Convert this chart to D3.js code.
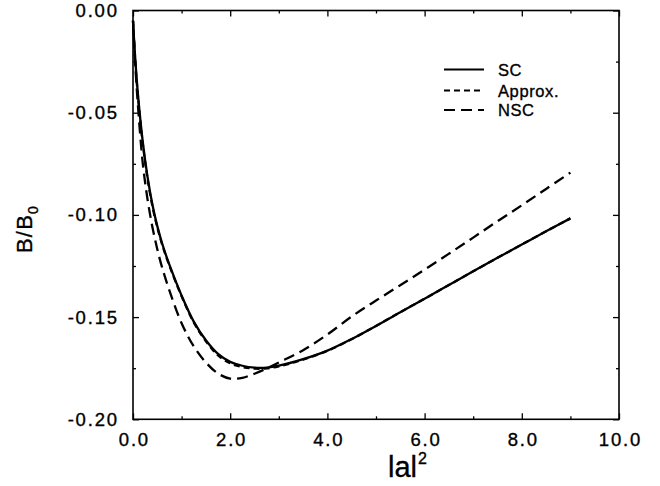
<!DOCTYPE html>
<html><head><meta charset="utf-8">
<script src="https://cdn.jsdelivr.net/npm/d3@7"></script>
<style>
html,body{margin:0;padding:0;background:#fff;}
svg text{font-family:"Liberation Sans",Arial,Helvetica,sans-serif;fill:#000;stroke:#000;stroke-width:0.35px;}
</style></head>
<body><svg id="chart" width="660" height="486"></svg>
<script>
// ---- data ----
const xs      = [0.0, 0.02, 0.05, 0.1, 0.2, 0.3, 0.4, 0.5, 0.6, 0.75, 1.0, 1.25, 1.5, 1.75, 2.0, 2.25, 2.5, 2.75, 3.0, 3.5, 4.0, 4.5, 5.0, 5.5, 6.0, 6.5, 7.0, 7.5, 8.0, 8.5, 9.0];
const scVals  = [-0.005, -0.0135, -0.025, -0.0405, -0.0640, -0.0815, -0.0950, -0.1055, -0.1140, -0.1245, -0.1395, -0.1522, -0.1613, -0.1680, -0.1719, -0.1738, -0.1747, -0.1747, -0.1738, -0.1706, -0.1664, -0.1607, -0.1543, -0.1476, -0.1410, -0.1343, -0.1276, -0.1210, -0.1145, -0.1080, -0.1017];
const apVals  = [-0.005, -0.0140, -0.026, -0.0415, -0.0650, -0.0824, -0.0958, -0.1061, -0.1145, -0.1249, -0.1398, -0.1526, -0.1618, -0.1687, -0.1726, -0.1744, -0.1752, -0.1751, -0.1741, -0.1708, -0.1665, -0.1608, -0.1543, -0.1476, -0.1410, -0.1343, -0.1276, -0.1210, -0.1145, -0.1080, -0.1017];
const nscVals = [-0.005, -0.0150, -0.028, -0.0460, -0.0745, -0.0925, -0.1060, -0.1168, -0.1258, -0.1370, -0.1530, -0.1643, -0.1722, -0.1776, -0.1801, -0.1797, -0.1777, -0.1751, -0.1722, -0.1662, -0.1585, -0.1497, -0.1419, -0.1344, -0.1268, -0.1190, -0.1111, -0.1031, -0.0953, -0.0873, -0.0793];
const seriesNames = ["SC", "Approx.", "NSC"];
const xMajor = [0, 2, 4, 6, 8, 10];
const xMinor = [1, 3, 5, 7, 9];
const yMajor = [0, -0.05, -0.10, -0.15, -0.20];
const yMinor = [-0.025, -0.075, -0.125, -0.175];
const xTickLabels = ["0.0", "2.0", "4.0", "6.0", "8.0", "10.0"];
const yTickLabels = ["0.00", "-0.05", "-0.10", "-0.15", "-0.20"];

// ---- layout ----
const svg = d3.select("#chart");
const L = 133, R = 619, T = 10.5, B = 419.3;
const x = d3.scaleLinear().domain([0, 10]).range([L, R]);
const y = d3.scaleLinear().domain([-0.2, 0]).range([B, T]);

const tickFont = 18.5, ls = 1.8;

// frame
svg.append("rect").attr("x", L).attr("y", T).attr("width", R - L).attr("height", B - T)
  .attr("fill", "none").attr("stroke", "#000").attr("stroke-width", 1.6);

function styleAxis(g) {
  g.select(".domain").remove();
  g.selectAll(".tick line").attr("stroke", "#000").attr("stroke-width", 1.3);
}

// bottom
const gB = svg.append("g").attr("transform", `translate(0,${B})`)
  .call(d3.axisBottom(x).tickValues(xMajor).tickSizeInner(-6).tickSizeOuter(0).tickPadding(14)
    .tickFormat((d, i) => xTickLabels[i]));
styleAxis(gB);
gB.selectAll("text").attr("font-size", tickFont).attr("letter-spacing", ls).attr("dx", ls / 2)
  .attr("font-family", "Liberation Sans, Arial, sans-serif").attr("fill", "#000");
svg.append("g").attr("transform", `translate(0,${B})`)
  .call(d3.axisBottom(x).tickValues(xMinor).tickSizeInner(-3).tickSizeOuter(0).tickFormat(""))
  .call(styleAxis);

// top
svg.append("g").attr("transform", `translate(0,${T})`)
  .call(d3.axisTop(x).tickValues(xMajor).tickSizeInner(-6).tickSizeOuter(0).tickFormat(""))
  .call(styleAxis);
svg.append("g").attr("transform", `translate(0,${T})`)
  .call(d3.axisTop(x).tickValues(xMinor).tickSizeInner(-3).tickSizeOuter(0).tickFormat(""))
  .call(styleAxis);

// left
const gL = svg.append("g").attr("transform", `translate(${L},0)`)
  .call(d3.axisLeft(y).tickValues(yMajor).tickSizeInner(-6).tickSizeOuter(0).tickPadding(16)
    .tickFormat((d, i) => yTickLabels[i]));
styleAxis(gL);
gL.selectAll("text").attr("font-size", tickFont).attr("letter-spacing", ls).attr("dx", ls)
  .attr("font-family", "Liberation Sans, Arial, sans-serif").attr("fill", "#000");
svg.append("g").attr("transform", `translate(${L},0)`)
  .call(d3.axisLeft(y).tickValues(yMinor).tickSizeInner(-3).tickSizeOuter(0).tickFormat(""))
  .call(styleAxis);

// right
svg.append("g").attr("transform", `translate(${R},0)`)
  .call(d3.axisRight(y).tickValues(yMajor).tickSizeInner(-6).tickSizeOuter(0).tickFormat(""))
  .call(styleAxis);
svg.append("g").attr("transform", `translate(${R},0)`)
  .call(d3.axisRight(y).tickValues(yMinor).tickSizeInner(-3).tickSizeOuter(0).tickFormat(""))
  .call(styleAxis);

// curves
const dashes = ["none", "6,4", "11,6"];
const allVals = [scVals, apVals, nscVals];
const line = d3.line().x(d => x(d[0])).y(d => y(d[1])).curve(d3.curveCatmullRom.alpha(0.5));
allVals.forEach((vals, i) => {
  svg.append("path").datum(xs.map((xv, j) => [xv, vals[j]]))
    .attr("d", line).attr("fill", "none").attr("stroke", "#000")
    .attr("stroke-width", 2.3).attr("stroke-dasharray", dashes[i]);
});

// legend
const legY = [69.5, 90.5, 110];
seriesNames.forEach((name, i) => {
  svg.append("line").attr("x1", 444).attr("x2", 484).attr("y1", legY[i]).attr("y2", legY[i])
    .attr("stroke", "#000").attr("stroke-width", 2.2).attr("stroke-dasharray", dashes[i]);
  svg.append("text").attr("x", 498).attr("y", legY[i] + 6).attr("font-size", 16.5)
    .attr("letter-spacing", 0.6).text(name);
});

// axis titles
const xt = svg.append("text").attr("x", 388).attr("y", 477).attr("font-size", 29);
xt.append("tspan").text("lal");
xt.append("tspan").attr("font-size", 16).attr("dy", -13).attr("dx", 1).text("2");

const yt = svg.append("text").attr("transform", "translate(32,253) rotate(-90)")
  .attr("font-size", 22).attr("letter-spacing", 1.2);
yt.append("tspan").text("B/B");
yt.append("tspan").attr("font-size", 14).attr("dy", 6).text("0");
</script></body></html>
